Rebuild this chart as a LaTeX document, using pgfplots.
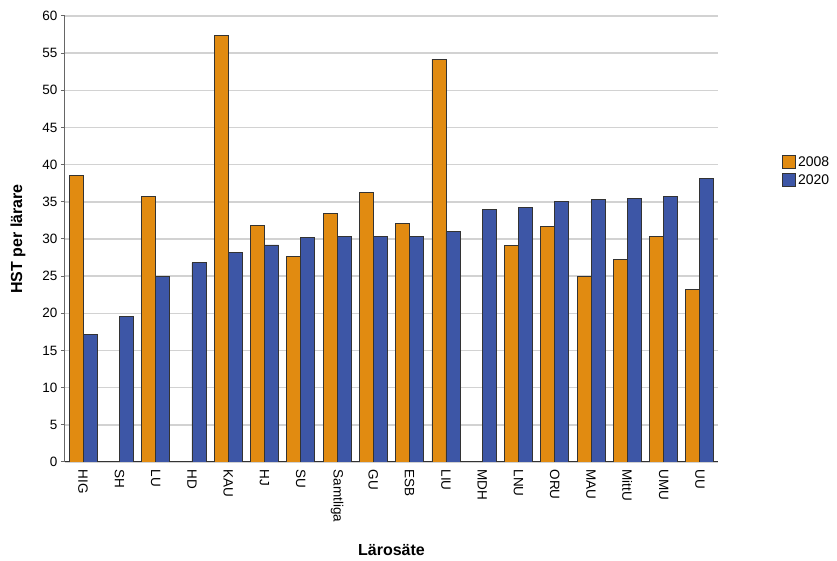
\documentclass[border=0pt]{standalone}
\usepackage{pgfplots}
\pgfplotsset{compat=1.18}
\usepackage{fontspec}
\setmainfont{Liberation Sans}
\definecolor{cOrange}{RGB}{225,139,17}
\definecolor{cBlue}{RGB}{61,86,166}
\definecolor{cGrid}{RGB}{210,210,210}
\begin{document}
\begin{tikzpicture}[x=1pt,y=1pt]
\path[use as bounding box] (-65pt,-99pt) rectangle (772pt,462pt);
\begin{axis}[
  scale only axis,
  width=653pt, height=446pt,
  at={(0,0)}, anchor=south west,
  ybar=0pt, bar width=14pt,
  xmin=-0.5, xmax=17.5,
  ymin=0, ymax=60,
  ytick={0,5,...,60},
  xtick={0,...,17},
  xticklabels={HIG,SH,LU,HD,KAU,HJ,SU,Samtliga,GU,ESB,LIU,MDH,LNU,ORU,MAU,MittU,UMU,UU},
  x tick label style={rotate=-90, anchor=west, font=\fontsize{13.5}{15}\selectfont, yshift=0pt},
  y tick label style={font=\fontsize{13.5}{15}\selectfont},
  /pgf/number format/assume math mode=true,
  axis x line*=bottom, axis y line*=left,
  axis line style={-, draw=black!60, line width=1pt},
  x axis line style={draw=black!80},
  xtick style={draw=none},
  ytick style={draw=black!60, line width=1pt},
  tick align=outside, major tick length=4pt,
  ymajorgrids, grid style={draw=cGrid, line width=1.4pt},
  ylabel={\textbf{HST per lärare}},
  xlabel={\textbf{Lärosäte}},
  label style={font=\fontsize{16}{18}\selectfont},
  ylabel style={at={(axis description cs:-0.072,0.5)}, anchor=center, rotate=0},
  xlabel style={at={(axis description cs:0.5,0)}, yshift=-88pt, anchor=center},
  legend style={at={(axis description cs:1,0.69)}, anchor=north west, xshift=64pt, draw=none, fill=none, font=\fontsize{14}{16}\selectfont, row sep=3pt, inner sep=0pt, nodes={inner sep=2pt}},
  legend cell align=left,
  legend image code/.code={\draw[#1, draw=black!80, line width=0.8pt] (0pt,-6.5pt) rectangle (13pt,6.5pt);},
]
\addplot[fill=cOrange, draw=black!80, line width=0.8pt] coordinates {
 (0,38.6) (2,35.7) (4,57.4) (5,31.8) (6,27.7) (7,33.4) (8,36.3) (9,32.1) (10,54.2)
 (12,29.1) (13,31.7) (14,25.0) (15,27.3) (16,30.3) (17,23.2)};
\addplot[fill=cBlue, draw=black!80, line width=0.8pt] coordinates {
 (0,17.1) (1,19.6) (2,25.0) (3,26.8) (4,28.2) (5,29.2) (6,30.2) (7,30.3) (8,30.3) (9,30.4)
 (10,31.0) (11,34.0) (12,34.3) (13,35.1) (14,35.3) (15,35.4) (16,35.7) (17,38.1)};
\legend{2008,2020}
\end{axis}
\end{tikzpicture}
\end{document}
